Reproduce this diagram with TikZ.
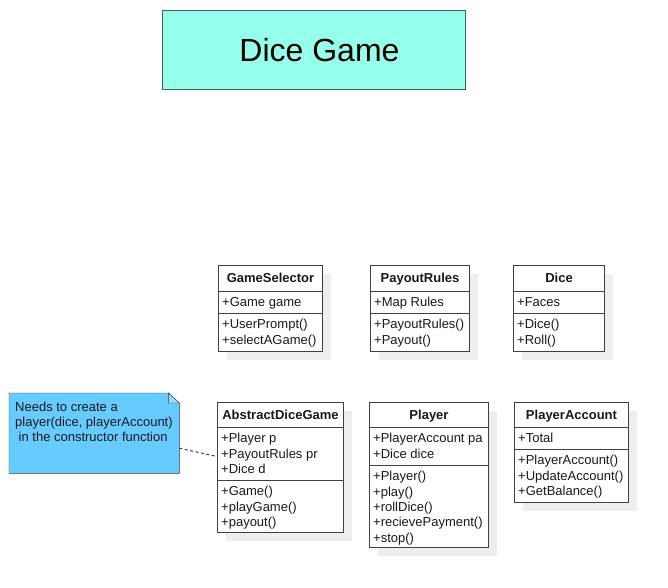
\documentclass[tikz,border=0pt]{standalone}
\usepackage{fontspec}
\setmainfont{Liberation Sans}
\usepackage{xcolor}
\usepackage{tikz}
\usetikzlibrary{shadows}
\definecolor{cTitle}{RGB}{150,255,235}
\definecolor{cTitleLine}{RGB}{60,100,100}
\definecolor{cNote}{RGB}{102,204,255}
\definecolor{cNoteLine}{RGB}{40,60,80}
\definecolor{cLine}{RGB}{64,64,64}
\definecolor{cShadow}{RGB}{238,238,238}
% name, position, width, height, header line, member line, header, attributes, methods
\newcommand{\umlclass}[9]{%
  \node[cls,minimum width=#3pt,minimum height=#4pt] (#1) at (#2) {};
  \draw[cLine] ([yshift=-#5pt]#1.north west) -- ([yshift=-#5pt]#1.north east);
  \draw[cLine] ([yshift=-#6pt]#1.north west) -- ([yshift=-#6pt]#1.north east);
  \node[hdr] (#1-name) at ([yshift={-#5/2-4.5}]#1.north) {#7};
  \node[mem] (#1-attr) at ([xshift=4pt,yshift={-#5-6.2}]#1.north west) {#8};
  \node[mem] (#1-meth) at ([xshift=4pt,yshift={-#6-6.2}]#1.north west) {#9};
}

\begin{document}
\begin{tikzpicture}[x=1pt,y=-1pt,font=\fontsize{13}{15.3}\selectfont,text=black!90,
  cls/.style={draw=cLine,line width=1pt,fill=white,anchor=north west,inner sep=0pt,
    drop shadow={shadow xshift=8pt,shadow yshift=-8pt,fill=cShadow,opacity=1}},
  hdr/.style={anchor=base,inner sep=0pt,font=\fontsize{13}{15.3}\selectfont\bfseries},
  mem/.style={anchor=north west,align=left,inner sep=0pt}]
\useasboundingbox (0,0) rectangle (668,587);
\node[draw=cTitleLine,line width=1pt,fill=cTitle,anchor=north west,inner sep=0pt,
  minimum width=303pt,minimum height=79pt] (title) at (162,10) {};
\node[text=black,font=\fontsize{32}{38}\selectfont] (title-text) at ([xshift=5.5pt]title.center) {Dice Game};

\umlclass{gs}{218,265}{104}{86}{26}{48}{GameSelector}{+Game game}{+UserPrompt()\\+selectAGame()}
\umlclass{pr}{370,265}{99}{86}{26}{48}{PayoutRules}{+Map Rules}{+PayoutRules()\\+Payout()}
\umlclass{dice}{513,265}{91}{86}{26}{48}{Dice}{+Faces}{+Dice()\\+Roll()}
\umlclass{adg}{217,402}{126}{130}{25}{78}{AbstractDiceGame}{+Player p\\+PayoutRules pr\\+Dice d}{+Game()\\+playGame()\\+payout()}
\umlclass{player}{369,402}{119}{145}{25}{63}{Player}{+PlayerAccount pa\\+Dice dice}{+Player()\\+play()\\+rollDice()\\+recievePayment()\\+stop()}
\umlclass{pa}{514,402}{114}{100}{25}{47}{PlayerAccount}{+Total}{+PlayerAccount()\\+UpdateAccount()\\+GetBalance()}

\node[anchor=north west,inner sep=0pt,minimum width=170pt,minimum height=80pt] (note) at (9,393) {};
\draw[cNoteLine,fill=cNote] (note.north west) -- ([xshift=-11pt]note.north east) -- ([yshift=-10pt]note.north east)
  -- (note.south east) -- (note.south west) -- cycle;
\draw[cNoteLine,fill=cNote!70!white] ([xshift=-11pt]note.north east) -- ([xshift=-11pt,yshift=-10pt]note.north east)
  -- ([yshift=-10pt]note.north east) -- cycle;
\node[mem,font=\fontsize{13}{15}\selectfont] (note-text) at (15,401.5)
  {Needs to create a\\player(dice, playerAccount)\\\hspace*{3.5pt}in the constructor function};
\draw[black!80,line width=0.9pt,dash pattern=on 3pt off 2.5pt] ([yshift=-15pt]note.east) -- ([yshift=11pt]adg.west);
\end{tikzpicture}
\end{document}
